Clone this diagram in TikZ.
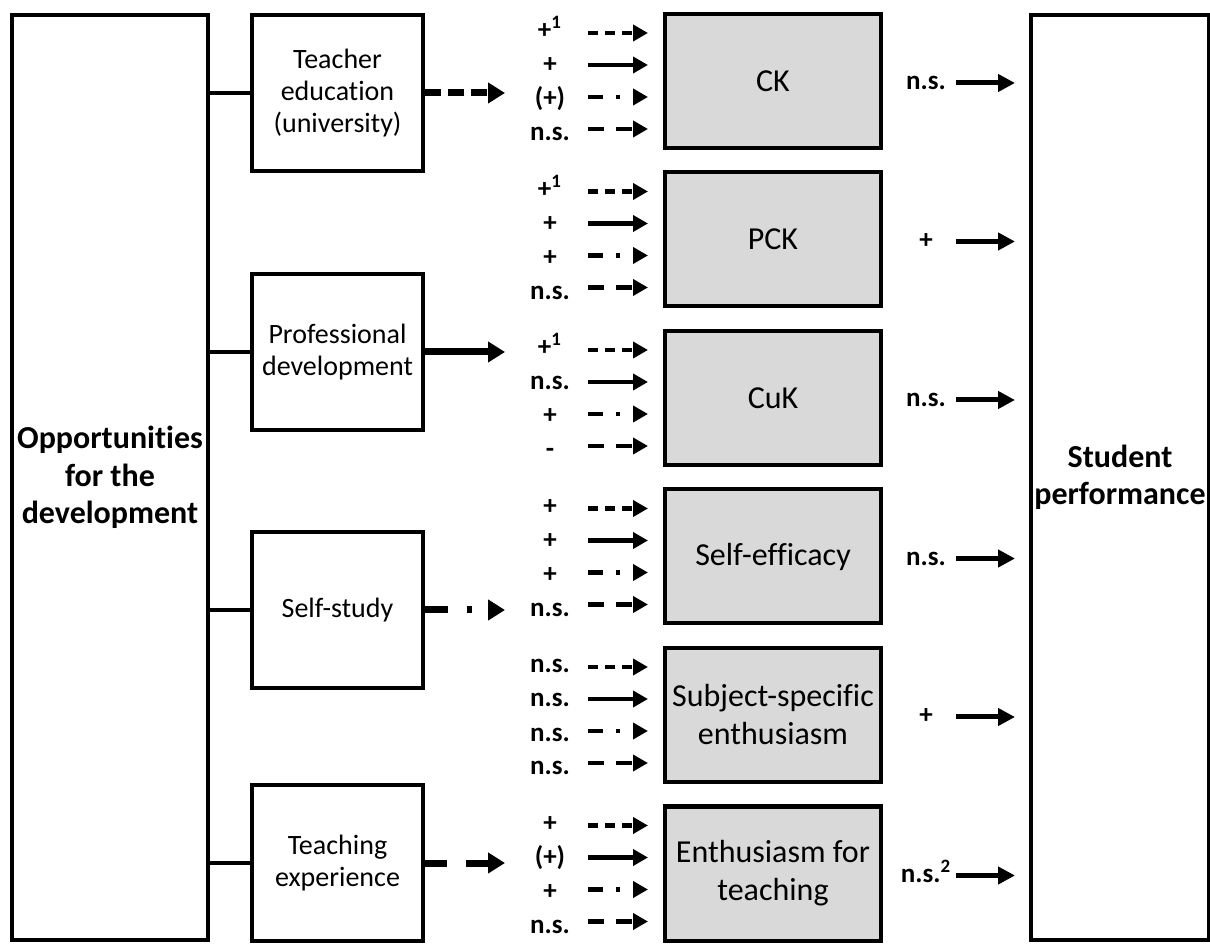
\documentclass[tikz,border=0pt]{standalone}
\usepackage{fontspec}
\setmainfont{Carlito}[Ligatures=NoCommon]
\usetikzlibrary{arrows.meta, positioning}
\definecolor{boxgrey}{RGB}{217,217,217}
\tikzset{
  opp/.style={draw, line width=2pt, inner sep=0pt, minimum width=98pt, minimum height=462.5pt, align=center, font=\bfseries\fontsize{16}{18.75}\selectfont}, % outer blocks
  source/.style={draw, line width=2pt, minimum width=85.5pt, minimum height=78pt, align=center, font=\fontsize{14}{16}\selectfont}, % learning opportunities
  comp/.style={draw, line width=2pt, fill=boxgrey, minimum width=108pt, minimum height=67pt, align=center, font=\fontsize{16}{19}\selectfont}, % competence boxes
  coef/.style={anchor=base, inner sep=0pt, font=\bfseries\fontsize{13.5}{16}\selectfont}, % effect labels
  link/.style={line width=1.6pt},
  bigarr/.style={line width=3.5pt, -{Triangle[length=8.5pt,width=10pt]}},
  arr/.style={line width=2.25pt, -{Triangle[length=7.5pt,width=8pt]}},
  outarr/.style={line width=2.5pt, -{Triangle[length=8.5pt,width=8.5pt]}},
  sdash/.style={dash pattern=on 5pt off 3.5pt},
  ddot/.style={dash pattern=on 7.5pt off 6.5pt on 2pt off 6.5pt},
  ldash/.style={dash pattern=on 8pt off 6pt},
}

\begin{document}
\begin{tikzpicture}[x=0.5pt, y=-0.5pt]
  \useasboundingbox (0,0) rectangle (1210,945);

  \node[opp] (opp) at (110,477.5) {Opportunities\\for the\\development};
  \node[opp, minimum width=89pt] (perf) at (1120,477.5) {Student\\performance};

  \node[source] (edu) at (337.5,93) {Teacher\\education\\(university)};
  \node[source] (prof) at (337.5,352) {Professional\\development};
  \node[source] (self) at (337.5,610) {Self-study};
  \node[source] (exp) at (337.5,863) {Teaching\\experience};

  \foreach \src in {edu, prof, self, exp}
    \draw[link] (opp.east |- \src.west) -- (\src.west);

  \coordinate (edu-tip) at (505,93);
  \coordinate (prof-tip) at (505,352);
  \coordinate (self-tip) at (505,610);
  \coordinate (exp-tip) at (505,863);
  \draw[bigarr, dash pattern=on 8pt off 3.5pt] (edu.east) -- (edu-tip);
  \draw[bigarr] (prof.east) -- (prof-tip);
  \draw[bigarr, dash pattern=on 11.5pt off 9.5pt on 2.5pt off 9.5pt] (self.east) -- (self-tip);
  \draw[bigarr, dash pattern=on 11pt off 9.5pt] (exp.east) -- (exp-tip);

  \foreach \name/\yc/\txt/\la/\lb/\lc/\ld/\lr in {
      ck/81/CK/{+\textsuperscript{1}}/+/(+)/n.s./n.s.,
      pck/239.5/PCK/{+\textsuperscript{1}}/+/+/n.s./+,
      cuk/398/CuK/{+\textsuperscript{1}}/n.s./+/-/n.s.,
      eff/556.5/Self-efficacy/+/+/+/n.s./n.s.,
      sse/715/{Subject-specific\\enthusiasm}/n.s./n.s./n.s./n.s./+,
      eft/873.5/{Enthusiasm for\\teaching}/+/(+)/+/n.s./{n.s.\textsuperscript{2}}}{
    \node[comp] (\name) at (773,\yc) {\txt};
    \node[coef] (\name-l1) at (550,\yc-42) {\la};
    \node[coef] (\name-l2) at (550,\yc-8) {\lb};
    \node[coef] (\name-l3) at (550,\yc+26) {\lc};
    \node[coef] (\name-l4) at (550,\yc+60) {\ld};
    \foreach \i/\dy in {1/-48, 2/-16, 3/16, 4/48} {
      \coordinate (\name-a\i) at (588,\yc+\dy);
      \coordinate (\name-b\i) at (648,\yc+\dy);
    }
    \draw[arr, sdash] (\name-a1) -- (\name-b1);
    \draw[arr] (\name-a2) -- (\name-b2);
    \draw[arr, ddot] (\name-a3) -- (\name-b3);
    \draw[arr, ldash] (\name-a4) -- (\name-b4);
    % effect on student performance
    \node[coef] (\name-r) at (926,\yc+9) {\lr};
    \coordinate (\name-o) at (956,\yc+2);
    \coordinate (\name-i) at (1015,\yc+2);
    \draw[outarr] (\name-o) -- (\name-i);
  }
\end{tikzpicture}
\end{document}
